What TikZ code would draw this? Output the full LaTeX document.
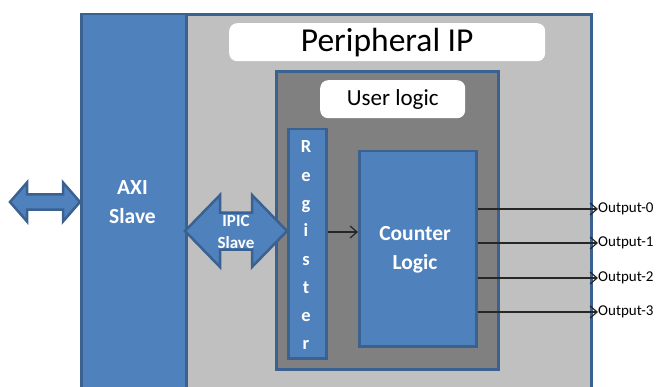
\documentclass[tikz,border=0pt]{standalone}
\usepackage{fontspec}
\setmainfont{Carlito}
\usetikzlibrary{arrows.meta}
\definecolor{blu}{HTML}{4F81BD}
\definecolor{blubrd}{HTML}{3A6190}
\definecolor{lgray}{HTML}{C0C0C0}
\definecolor{dgray}{HTML}{808080}
\tikzset{
  bluebox/.style={draw=blubrd, fill=blu, line width=2.5pt, anchor=north west, inner sep=0pt},
  graybox/.style={draw=blubrd, line width=3pt, anchor=north west, inner sep=0pt},
  labelbox/.style={fill=white, rounded corners=8pt, anchor=north west, inner sep=0pt},
  wtext/.style={text=white, font=\bfseries, align=center, inner sep=0pt},
  dblarrow/.style={draw=blubrd, fill=blu, line width=2.5pt, line join=miter},
  sig/.style={draw=black!85, line width=1.3pt, -{Straight Barb[length=7pt,width=12pt,line width=1.2pt]}},
  outlabel/.style={anchor=west, inner sep=0pt, font=\fontsize{15}{17}\selectfont}
}
\begin{document}
\begin{tikzpicture}[x=1pt,y=-1pt]
\useasboundingbox[fill=white] (0,0) rectangle (660,387);
% peripheral IP outer box
\node[graybox, fill=lgray, minimum width=510pt, minimum height=400pt] (periph) at (80,13) {};
% AXI slave column
\node[bluebox, minimum width=105pt, minimum height=400pt] (axi) at (80,13) {};
\node[wtext, font=\bfseries\fontsize{21.5}{29}\selectfont] (axitext) at (132.5,202) {AXI\\Slave};
% Peripheral IP label
\node[labelbox, minimum width=316pt, minimum height=38pt] (plabel) at (229,23) {};
\node[font=\fontsize{33.5}{36}\selectfont, inner sep=0pt] (ptext) at (plabel.center) {Peripheral IP};
% user logic box
\node[graybox, fill=dgray, minimum width=222pt, minimum height=298pt] (user) at (275,70) {};
\node[labelbox, minimum width=145pt, minimum height=38pt] (ulabel) at (320,80) {};
\node[font=\fontsize{23}{26}\selectfont, inner sep=0pt] (utext) at (ulabel.center) {User logic};
% register
\node[bluebox, minimum width=38pt, minimum height=229pt] (reg) at (287,128) {};
\node[wtext, font=\bfseries\fontsize{18.5}{28}\selectfont] (regtext) at (306,245) {R\\e\\g\\i\\s\\t\\e\\r};
% counter logic
\node[bluebox, minimum width=117pt, minimum height=195pt] (cnt) at (358,150) {};
\node[wtext, font=\bfseries\fontsize{21.5}{29}\selectfont] (cnttext) at (415,250) {Counter\\Logic};
% left double arrow (AXI)
\draw[dblarrow] (10,202) -- (27,182.5) -- (27,194.5) -- (63,194.5) -- (63,182.5) -- (80,202)
  -- (63,221.5) -- (63,209.5) -- (27,209.5) -- (27,221.5) -- cycle;
% IPIC double arrow
\draw[dblarrow] (185,231) -- (220,195) -- (220,212.5) -- (252,212.5) -- (252,195) -- (287,231)
  -- (252,267) -- (252,249.5) -- (220,249.5) -- (220,267) -- cycle;
\node[wtext, font=\bfseries\fontsize{17}{22}\selectfont] (ipic) at (236,232) {IPIC\\Slave};
% register to counter
\draw[sig] (reg.east |- ipic) -- (cnt.west |- ipic);
% outputs
\node[outlabel] (o0) at (598,209) {Output-0};
\node[outlabel] (o1) at (598,243) {Output-1};
\node[outlabel] (o2) at (598,278) {Output-2};
\node[outlabel] (o3) at (598,312) {Output-3};
\draw[sig] (cnt.east |- o0) -- (o0.west);
\draw[sig] (cnt.east |- o1) -- (o1.west);
\draw[sig] (cnt.east |- o2) -- (o2.west);
\draw[sig] (cnt.east |- o3) -- (o3.west);
\end{tikzpicture}
\end{document}
